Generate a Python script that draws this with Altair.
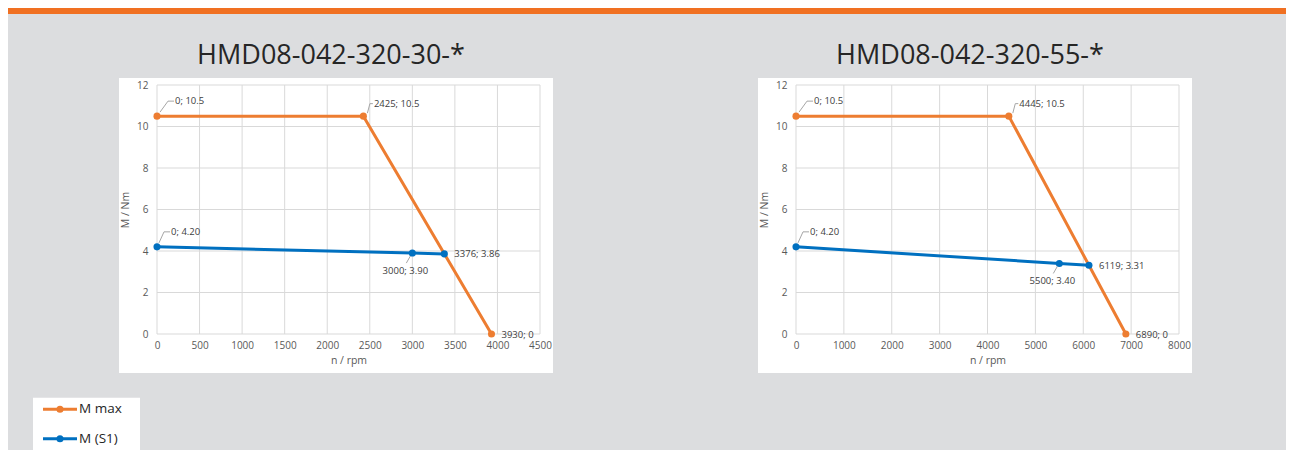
import altair as alt
import pandas as pd

# ---------------- data ----------------
TITLES = ["HMD08-042-320-30-*", "HMD08-042-320-55-*"]
SERIES = ["M max", "M (S1)"]
COLORS = ["#ED7D31", "#0070C0"]

# chart 1
N_MAX_1 = [0, 2425, 3930]
M_MAX_1 = [10.5, 10.5, 0]
N_S1_1 = [0, 3000, 3376]
M_S1_1 = [4.20, 3.90, 3.86]
POS_MAX_1 = ["ur_far", "ur_near", "right"]
POS_S1_1 = ["ur", "below", "right"]

# chart 2
N_MAX_2 = [0, 4445, 6890]
M_MAX_2 = [10.5, 10.5, 0]
N_S1_2 = [0, 5500, 6119]
M_S1_2 = [4.20, 3.40, 3.31]
POS_MAX_2 = ["ur_far", "ur_near", "right"]
POS_S1_2 = ["ur", "below", "right"]

X_MAX = [4500, 8000]
X_TICKS_1 = [0, 500, 1000, 1500, 2000, 2500, 3000, 3500, 4000, 4500]
X_TICKS_2 = [0, 1000, 2000, 3000, 4000, 5000, 6000, 7000, 8000]
Y_TICKS = [0, 2, 4, 6, 8, 10, 12]

# ---------------- style ----------------
W, H = 383, 249
FONT = "Open Sans"
GRID = "#d9d9d9"
LABEL_C = "#404040"
AXIS_C = "#595959"
BG = "#dcdddf"
BAR = "#f07022"

# label placement styles: text offset and leader segments
PLACE = {
    "ur_far": dict(dx=18, dy=-15, align="left", lead=[(3, -4, 11, -15), (11, -15, 17, -15)]),
    "ur": dict(dx=14, dy=-15, align="left", lead=[(2, -4, 7, -15), (7, -15, 13, -15)]),
    "ur_near": dict(dx=10.5, dy=-12.5, align="left", lead=[(4, -3, 6.5, -12.5), (6.5, -12.5, 9.5, -12.5)]),
    "below": dict(dx=-7, dy=18, align="center", lead=[(-2, 3, -6, 10)]),
    "right": dict(dx=10, dy=0.5, align="left", lead=[]),
}


def make_df(nmax, mmax, pmax, ns1, ms1, ps1):
    rows = []
    for n, m, p in zip(nmax, mmax, pmax):
        rows.append(dict(n=n, m=m, series=SERIES[0], label=f"{n}; {m:g}", pos=p))
    for n, m, p in zip(ns1, ms1, ps1):
        rows.append(dict(n=n, m=m, series=SERIES[1], label=f"{n}; {m:.2f}", pos=p))
    return pd.DataFrame(rows)


DUMMY = pd.DataFrame({"k": [0]})
COLOR = alt.Color("series:N", scale=alt.Scale(domain=SERIES, range=COLORS), legend=None)


def panel(title, df, xmax, xticks, first):
    xs = alt.Scale(domain=[0, xmax], nice=False)
    ys = alt.Scale(domain=[0, 12], nice=False)
    X = alt.X("n:Q", scale=xs, title="n / rpm",
              axis=alt.Axis(values=xticks, grid=False, domain=False, ticks=False, tickSize=0,
                            labelPadding=6, titlePadding=5, format="d", labelFlush=False, zindex=1))
    Y = alt.Y("m:Q", scale=ys, title="M / Nm",
              axis=alt.Axis(values=Y_TICKS, grid=False, domain=False, ticks=False, tickSize=0,
                            labelPadding=9, titlePadding=6, zindex=1))

    layers = []
    if first:
        layers.append(alt.Chart(DUMMY).mark_rect(color=BAR).encode(
            x=alt.value(-149), x2=alt.value(1129), y=alt.value(-77), y2=alt.value(-71)))
    layers.append(alt.Chart(DUMMY).mark_rect(color="white").encode(
        x=alt.value(-38), x2=alt.value(W + 13), y=alt.value(-7), y2=alt.value(H + 39)))
    layers.append(alt.Chart(DUMMY).mark_text(
        text=title, font=FONT, fontSize=27, color="#262626", align="center", baseline="alphabetic"
    ).encode(x=alt.value(174), y=alt.value(-21)))

    vg = alt.Chart(pd.DataFrame({"n": xticks})).mark_rule(color=GRID, strokeWidth=1).encode(
        x=X, y=alt.datum(0), y2=alt.datum(12))
    hg = alt.Chart(pd.DataFrame({"m": Y_TICKS})).mark_rule(color=GRID, strokeWidth=1).encode(
        y=Y, x=alt.datum(0), x2=alt.datum(xmax))
    layers += [vg, hg]

    base = alt.Chart(df)
    for s in SERIES:
        sub = base.transform_filter(alt.datum.series == s)
        layers.append(sub.mark_line(strokeWidth=3).encode(x=X, y=Y, color=COLOR))
    for s in SERIES:
        sub = base.transform_filter(alt.datum.series == s)
        layers.append(sub.mark_circle(size=50, opacity=1).encode(x=X, y=Y, color=COLOR))

    for key, p in PLACE.items():
        sub = base.transform_filter(alt.datum.pos == key)
        for (x0, y0, x1, y1) in p["lead"]:
            layers.append(sub.mark_rule(color="#a6a6a6", strokeWidth=1,
                                        xOffset=x0, yOffset=y0, x2Offset=x1, y2Offset=y1).encode(
                x=X, y=Y, x2="n:Q", y2="m:Q"))
        layers.append(sub.mark_text(font=FONT, fontSize=9.5, color=LABEL_C, align=p["align"],
                                    baseline="middle", dx=p["dx"], dy=p["dy"]).encode(
            x=X, y=Y, text="label:N"))

    main = alt.layer(*layers).properties(width=W, height=H)

    if not first:
        return main

    leg = alt.Chart(pd.DataFrame({"series": SERIES, "idx": list(range(len(SERIES)))}))
    LY = alt.Y("idx:Q", scale=alt.Scale(domain=[0, len(SERIES) - 1], range=[324.3, 353.7],
                                          nice=False, zero=False), axis=None)
    legend_box = alt.Chart(DUMMY).mark_rect(color="white").encode(
        x=alt.value(-124), x2=alt.value(-17), y=alt.value(312.7), y2=alt.value(H + 120))
    leg_line = leg.mark_rule(strokeWidth=3).encode(
        x=alt.value(-114), x2=alt.value(-80), y=LY, color=COLOR)
    leg_pt = leg.mark_circle(size=50, opacity=1).encode(x=alt.value(-97), y=LY, color=COLOR)
    leg_txt = leg.mark_text(font=FONT, fontSize=13.5, color="#262626", align="left",
                            baseline="middle").encode(x=alt.value(-78), y=LY, text="series:N")
    legend = alt.layer(legend_box, leg_line, leg_pt, leg_txt)

    return alt.layer(main, legend).resolve_scale(y="independent").properties(width=W, height=H)


df1 = make_df(N_MAX_1, M_MAX_1, POS_MAX_1, N_S1_1, M_S1_1, POS_S1_1)
df2 = make_df(N_MAX_2, M_MAX_2, POS_MAX_2, N_S1_2, M_S1_2, POS_S1_2)

c1 = panel(TITLES[0], df1, X_MAX[0], X_TICKS_1, True)
c2 = panel(TITLES[1], df2, X_MAX[1], X_TICKS_2, False)

chart = alt.hconcat(c1, c2, spacing=256, bounds="flush").properties(
    background=BG, padding=0
).configure_view(stroke=None).configure_axis(
    labelFont=FONT, labelFontSize=10, labelColor=AXIS_C,
    titleFont=FONT, titleFontSize=10.5, titleFontWeight="normal", titleColor=AXIS_C,
)

chart.save("out.html", embed_options={"renderer": "svg", "actions": False})
